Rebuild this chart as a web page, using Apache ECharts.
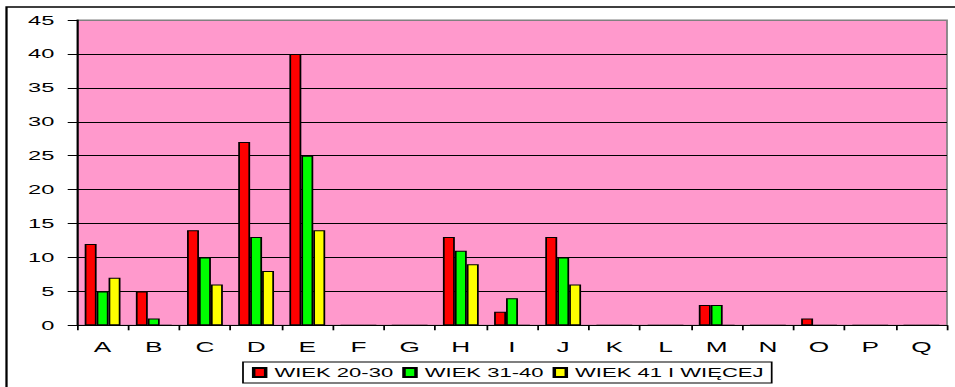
<!DOCTYPE html>
<html>
<head>
<meta charset="utf-8">
<script src="https://cdn.jsdelivr.net/npm/echarts@6.0.0/dist/echarts.min.js"></script>
<style>
  html, body { margin: 0; padding: 0; background: #ffffff; overflow: hidden; }
  #chart { width: 955px; height: 387px; }
  #inner { transform-origin: 0 0; }
</style>
</head>
<body>
<div id="chart"><div id="inner"></div></div>
<script>
// Categories and respondent counts per age group
var categories = ['A', 'B', 'C', 'D', 'E', 'F', 'G', 'H', 'I', 'J', 'K', 'L', 'M', 'N', 'O', 'P', 'Q'];
var wiek2030 = [12, 5, 14, 27, 40, 0, 0, 13, 2, 13, 0, 0, 3, 0, 1, 0, 0];
var wiek3140 = [5, 1, 10, 13, 25, 0, 0, 11, 4, 10, 0, 0, 3, 0, 0, 0, 0];
var wiek41 = [7, 0, 6, 8, 14, 0, 0, 9, 0, 6, 0, 0, 0, 0, 0, 0, 0];
var seriesNames = ['WIEK 20-30', 'WIEK 31-40', 'WIEK 41 I WIĘCEJ'];
var yMin = 0, yMax = 45, yStep = 5;

// The chart is laid out on a narrower canvas and widened horizontally
var STRETCH = 1.75;
var W = 955 / STRETCH, H = 387;
var inner = document.getElementById('inner');
inner.style.width = W + 'px';
inner.style.height = H + 'px';
inner.style.transform = 'scaleX(' + STRETCH + ')';

var font = "'Liberation Sans', Arial, sans-serif";

// Split lines: black inside the plot, grey along the top edge
var splitColors = [];
for (var v = yMin; v <= yMax; v += yStep) {
  splitColors.push(v === yMax ? '#808080' : '#000000');
}

var chart = echarts.init(inner, null, { renderer: 'svg', width: W, height: H });

function barSeries(name, data, color) {
  return {
    name: name,
    type: 'bar',
    data: data,
    barGap: '0%',
    barCategoryGap: '30%',
    itemStyle: { color: color, borderColor: '#000000', borderWidth: 1 },
    emphasis: { disabled: true }
  };
}

chart.setOption({
  animation: false,
  backgroundColor: '#ffffff',
  textStyle: { fontFamily: font },
  graphic: [{
    type: 'rect',
    shape: { x: 6.5 / STRETCH, y: 7, width: W, height: H },
    style: { fill: 'none', stroke: '#000000', lineWidth: 1.3 },
    silent: true,
    z: 100
  }],
  grid: {
    left: 77 / STRETCH,
    right: 8 / STRETCH,
    top: 20,
    bottom: 61.7,
    show: true,
    backgroundColor: '#ff99cc',
    borderColor: '#808080',
    borderWidth: 1
  },
  legend: {
    data: seriesNames,
    left: 243 / STRETCH,
    top: 362,
    orient: 'horizontal',
    itemWidth: 12 / STRETCH,
    itemHeight: 9,
    itemGap: 9 / STRETCH,
    padding: [4, 4.6, 4, 5.1],
    backgroundColor: '#ffffff',
    borderColor: '#000000',
    borderWidth: 1,
    borderRadius: 0,
    icon: 'rect',
    selectedMode: false,
    textStyle: { color: '#000000', fontSize: 12.6, fontFamily: font }
  },
  xAxis: {
    type: 'category',
    data: categories,
    axisLine: { show: true, lineStyle: { color: '#000000', width: 1 } },
    axisTick: { show: true, length: 5, lineStyle: { color: '#000000' } },
    axisLabel: { color: '#000000', fontSize: 15, fontFamily: font, margin: 14 },
    splitLine: { show: false }
  },
  yAxis: {
    type: 'value',
    min: yMin,
    max: yMax,
    interval: yStep,
    axisLine: { show: true, lineStyle: { color: '#000000', width: 1 } },
    axisTick: { show: true, length: 9.3 / STRETCH, lineStyle: { color: '#000000' } },
    axisLabel: { color: '#000000', fontSize: 13.5, fontFamily: font, margin: 22.7 / STRETCH },
    splitLine: { show: true, lineStyle: { color: splitColors, width: 1 } }
  },
  series: [
    barSeries(seriesNames[0], wiek2030, '#ff0000'),
    barSeries(seriesNames[1], wiek3140, '#00ff00'),
    barSeries(seriesNames[2], wiek41, '#ffff00')
  ]
});
</script>
</body>
</html>
